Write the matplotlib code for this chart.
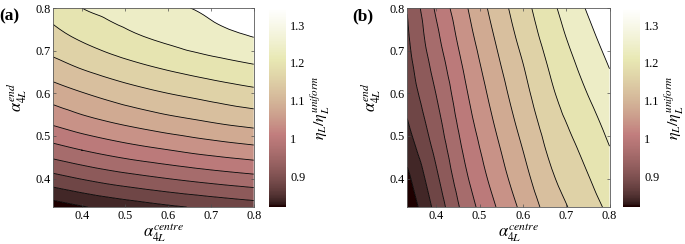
import numpy as np
import matplotlib
matplotlib.use("Agg")
import matplotlib.pyplot as plt
import matplotlib.tri as mtri
from matplotlib.colors import Normalize

plt.rcParams["font.family"] = ["Liberation Serif", "DejaVu Serif"]
plt.rcParams["mathtext.fontset"] = "stix"

alpha_centre = [0.3333, 0.4, 0.4667, 0.5333, 0.6, 0.6667, 0.7333, 0.8]
alpha_end = [0.3333, 0.4, 0.4667, 0.5333, 0.6, 0.6667, 0.7333, 0.8]

# eta_L / eta_L^uniform, rows = alpha_end, columns = alpha_centre
eta_a = [
    [0.820, 0.837, 0.851, 0.863, 0.874, 0.883, 0.892, 0.900],
    [0.905, 0.922, 0.937, 0.949, 0.960, 0.970, 0.979, 0.987],
    [0.983, 1.000, 1.015, 1.028, 1.039, 1.050, 1.059, 1.067],
    [1.048, 1.066, 1.081, 1.094, 1.106, 1.116, 1.126, 1.134],
    [1.100, 1.118, 1.134, 1.148, 1.160, 1.170, 1.180, 1.189],
    [1.148, 1.167, 1.183, 1.197, 1.209, 1.220, 1.230, 1.239],
    [1.188, 1.207, 1.224, 1.238, 1.250, 1.262, 1.272, 1.281],
    [1.215, 1.240, 1.253, 1.264, 1.274, 1.282, 1.293, 1.306],
]
eta_b = [
    [0.808, 0.893, 0.975, 1.036, 1.090, 1.139, 1.175, 1.208],
    [0.830, 0.912, 0.992, 1.053, 1.106, 1.155, 1.189, 1.223],
    [0.856, 0.930, 1.007, 1.067, 1.120, 1.169, 1.203, 1.238],
    [0.878, 0.946, 1.021, 1.081, 1.134, 1.182, 1.217, 1.252],
    [0.895, 0.961, 1.034, 1.094, 1.147, 1.195, 1.232, 1.267],
    [0.906, 0.976, 1.047, 1.107, 1.159, 1.207, 1.246, 1.282],
    [0.915, 0.991, 1.061, 1.120, 1.173, 1.220, 1.260, 1.297],
    [0.922, 1.006, 1.074, 1.133, 1.185, 1.232, 1.274, 1.313],
]

levels = [0.84, 0.88, 0.92, 0.96, 1.00, 1.04, 1.08, 1.12, 1.16, 1.20, 1.24, 1.28]
cbar_range = (0.82, 1.345)
cbar_ticks = [0.9, 1.0, 1.1, 1.2, 1.3]
cbar_ticklabels = ["0.9", "1", "1.1", "1.2", "1.3"]
axis_ticks = [0.4, 0.5, 0.6, 0.7, 0.8]

cmap = plt.get_cmap("pink")
norm = Normalize(*cbar_range)


def draw_panel(fig, ax_rect, cax_rect, z, tag):
    ax = fig.add_axes(ax_rect)
    cax = fig.add_axes(cax_rect)
    X, Y = np.meshgrid(alpha_centre, alpha_end)
    Z = np.array(z)
    # smooth rendering of the read grid with matplotlib's tri refiner
    tri = mtri.Triangulation(X.ravel(), Y.ravel())
    interp = mtri.CubicTriInterpolator(tri, Z.ravel(), kind="geom")
    tri_f, z_f = mtri.UniformTriRefiner(tri).refine_field(Z.ravel(), triinterpolator=interp, subdiv=3)

    # matlab-like fill: each band takes the colour of its lower level
    bounds = [0.0] + levels + [2.0]
    floors = [cbar_range[0]] + levels[:-1]
    colors = [cmap(norm(v)) for v in floors] + [cmap(1.0)]
    ax.tricontourf(tri_f, z_f, levels=bounds, colors=colors, antialiased=True)
    ax.tricontour(tri_f, z_f, levels=levels, colors="k", linewidths=0.6)
    ax.set_xlim(alpha_centre[0], alpha_centre[-1])
    ax.set_ylim(alpha_end[0], alpha_end[-1])
    ax.set_xticks(axis_ticks)
    ax.set_yticks(axis_ticks)
    ax.set_xticklabels([f"{t:g}" for t in axis_ticks])
    ax.set_yticklabels([f"{t:g}" for t in axis_ticks])
    ax.tick_params(direction="in", top=True, right=True, length=2.5, width=0.5,
                   color="0.3", labelsize=8.8, pad=2)
    for sp in ax.spines.values():
        sp.set_color("0.35")
        sp.set_linewidth(0.6)
    ax.set_xlabel(r"$\alpha_{4L}^{centre}$", fontsize=12)
    ax.xaxis.set_label_coords(0.55, -0.072)
    ax.set_ylabel(r"$\alpha_{4L}^{end}$", fontsize=12)
    ax.yaxis.set_label_coords(-0.12, 0.55)
    ax.text(-0.27, 1.0, tag, transform=ax.transAxes, fontsize=12.5,
            fontweight="bold", va="top", ha="left")

    sm = plt.cm.ScalarMappable(norm=norm, cmap=cmap)
    cb = fig.colorbar(sm, cax=cax)
    cb.outline.set_visible(False)
    cb.set_ticks(cbar_ticks)
    cb.set_ticklabels(cbar_ticklabels)
    cb.ax.tick_params(length=0, labelsize=8.8, pad=3)
    cb.set_label(r"$\eta_L/\eta_L^{uniform}$", fontsize=11.5, labelpad=2)
    return ax


fig = plt.figure(figsize=(6.85, 2.44), dpi=100)
draw_panel(fig, [0.0778, 0.1516, 0.2926, 0.8156], [0.3927, 0.1516, 0.0248, 0.8156], eta_a, "(a)")
draw_panel(fig, [0.5946, 0.1516, 0.2952, 0.8156], [0.9100, 0.1516, 0.0243, 0.8156], eta_b, "(b)")
fig.savefig("out.png", dpi=100)
